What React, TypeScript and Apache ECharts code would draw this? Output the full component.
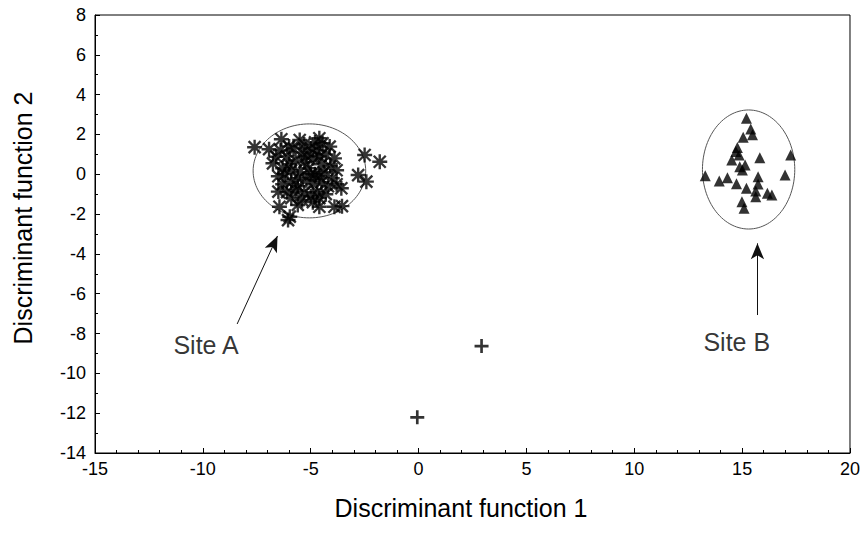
import React, { useEffect, useRef } from "react";
import * as echarts from "echarts";

const siteA: number[][] = [
  [-7.6, 1.36], [-6.93, 1.26], [-6.36, 1.76], [-5.51, 1.72], [-4.6, 1.81], [-4.45, 1.56],
  [-4.12, 1.39], [-2.5, 0.97], [-1.8, 0.63], [-2.8, -0.04], [-2.42, -0.37], [-3.58, -0.7],
  [-6.6, 0.88], [-6.75, 0.55], [-6.5, -0.87], [-6.45, -1.63], [-5.97, -2.13], [-6.05, -2.3],
  [-5.6, -1.54], [-4.6, -1.63], [-3.9, -1.63], [-3.55, -1.6],
  [-6.4, 1.2], [-6.1, 0.9], [-5.8, 1.3], [-5.4, 1.1], [-5.0, 1.3], [-4.7, 1.2], [-4.3, 1.0],
  [-3.9, 0.8], [-6.3, 0.3], [-6.0, 0.5], [-5.7, 0.7], [-5.3, 0.6], [-4.9, 0.8], [-4.5, 0.5],
  [-4.1, 0.4], [-3.8, 0.2], [-6.5, -0.1], [-6.2, 0.0], [-5.9, 0.2], [-5.5, 0.1], [-5.1, 0.3],
  [-4.8, 0.0], [-4.4, 0.1], [-4.0, -0.2], [-6.3, -0.5], [-5.9, -0.4], [-5.6, -0.2], [-5.2, -0.3],
  [-4.9, -0.5], [-4.5, -0.4], [-4.2, -0.6], [-3.8, -0.5], [-6.1, -0.9], [-5.7, -0.8], [-5.3, -0.9],
  [-5.0, -1.1], [-4.7, -0.9], [-4.3, -1.0], [-5.9, -1.2], [-5.4, -1.3], [-4.9, -1.4], [-4.6, -1.2],
  [-5.2, 0.9], [-4.6, 0.9], [-6.0, 1.4], [-5.3, 1.5], [-4.8, 1.6], [-5.6, -0.6], [-4.6, -0.1],
  [-5.0, 0.0],
];

const siteB: number[][] = [
  [15.2, 2.81], [15.4, 2.28], [15.48, 1.98], [15.05, 1.86], [14.78, 1.34], [14.71, 1.14],
  [14.86, 0.97], [14.52, 0.72], [15.82, 0.83], [17.25, 0.97], [15.14, 0.47], [14.89, 0.38],
  [15.01, 0.22], [13.29, -0.07], [16.99, -0.04], [13.94, -0.34], [14.32, -0.17], [14.74, -0.47],
  [15.74, -0.12], [15.74, -0.49], [15.2, -0.7], [15.63, -0.84], [16.17, -0.95], [16.38, -1.04],
  [15.63, -1.13], [14.99, -1.38], [15.09, -1.71],
];

const centroids: number[][] = [
  [2.92, -8.63],
  [-0.06, -12.21],
];

// ellipse parameters: [cx, cy, rx, ry]
const ellipseA = [-5.06, 0.17, 2.61, 2.36];
const ellipseB = [15.3, 0.24, 2.14, 2.99];

const arrowA = [[-8.41, -7.52], [-6.54, -3.1]];
const arrowB = [[15.71, -7.07], [15.71, -3.47]];

const labelPoints = [
  { name: "Site A", value: [-9.85, -8.6] },
  { name: "Site B", value: [14.75, -8.4] },
];

const xTicks = { min: -15, max: 20, interval: 5 };
const yTicks = { min: -14, max: 8, interval: 2 };

const ASTERISK =
  "path://M8.4 0h3.2v20h-3.2zM0 8.4h20v3.2H0zM3.1 0.9L19.1 16.9L16.9 19.1L0.9 3.1zM19.1 3.1L3.1 19.1L0.9 16.9L16.9 0.9z";
const PLUS = "path://M8.1 0h3.8v20h-3.8zM0 8.1h20v3.8H0z";

function ellipsePoints(e: number[]): number[][] {
  const pts: number[][] = [];
  const n = 120;
  for (let i = 0; i <= n; i++) {
    const t = (i / n) * Math.PI * 2;
    pts.push([e[0] + e[2] * Math.cos(t), e[1] + e[3] * Math.sin(t)]);
  }
  return pts;
}

const FONT = "Arial, 'Liberation Sans', sans-serif";

export default function App() {
  const ref = useRef<HTMLDivElement>(null);
  useEffect(() => {
    document.body.style.margin = "0";
    if (!ref.current) return;
    const chart = echarts.init(ref.current, undefined, { renderer: "svg" });
    const arrowStyle = { color: "#111", width: 1, type: "solid" as const };
    chart.setOption({
      animation: false,
      backgroundColor: "#fff",
      grid: { left: 95, right: 12, top: 15, bottom: 85, show: true, borderColor: "#000", borderWidth: 1 },
      xAxis: {
        type: "value",
        min: xTicks.min,
        max: xTicks.max,
        interval: xTicks.interval,
        axisLine: { show: true, onZero: false, lineStyle: { color: "#000", width: 1 } },
        axisTick: { show: true, inside: true, length: 5, lineStyle: { color: "#000" } },
        minorTick: { show: true, splitNumber: 5, length: 3, lineStyle: { color: "#000" } },
        splitLine: { show: false },
        axisLabel: { color: "#000", fontSize: 18, fontFamily: FONT, margin: 7 },
      },
      yAxis: {
        type: "value",
        min: yTicks.min,
        max: yTicks.max,
        interval: yTicks.interval,
        axisLine: { show: true, onZero: false, lineStyle: { color: "#000", width: 1 } },
        axisTick: { show: true, inside: true, length: 5, lineStyle: { color: "#000" } },
        minorTick: { show: true, splitNumber: 2, length: 3, lineStyle: { color: "#000" } },
        splitLine: { show: false },
        axisLabel: { color: "#000", fontSize: 18, fontFamily: FONT, margin: 9 },
      },
      graphic: [
        {
          type: "text",
          x: 461,
          y: 508,
          style: {
            text: "Discriminant function 1",
            font: `25px ${FONT}`,
            fill: "#000",
            align: "center",
            verticalAlign: "middle",
          },
        },
        {
          type: "text",
          x: 23,
          y: 218,
          rotation: Math.PI / 2,
          style: {
            text: "Discriminant function 2",
            font: `25px ${FONT}`,
            fill: "#000",
            align: "center",
            verticalAlign: "middle",
          },
        },
      ],
      series: [
        {
          type: "line",
          data: ellipsePoints(ellipseA),
          symbol: "none",
          lineStyle: { color: "#555", width: 1 },
          z: 1,
        },
        {
          type: "line",
          data: ellipsePoints(ellipseB),
          symbol: "none",
          lineStyle: { color: "#555", width: 1 },
          z: 1,
        },
        {
          type: "scatter",
          data: siteA,
          symbol: ASTERISK,
          symbolSize: 15,
          itemStyle: { color: "#000" },
          z: 3,
        },
        {
          type: "scatter",
          data: siteB,
          symbol: "triangle",
          symbolSize: 11,
          itemStyle: { color: "#000" },
          z: 3,
        },
        {
          type: "scatter",
          data: centroids,
          symbol: PLUS,
          symbolSize: 14,
          itemStyle: { color: "#000" },
          z: 3,
        },
        {
          type: "scatter",
          data: labelPoints,
          symbolSize: 0,
          label: {
            show: true,
            position: "inside",
            formatter: "{b}",
            color: "#000",
            fontSize: 25,
            fontFamily: FONT,
          },
          markLine: {
            silent: true,
            symbol: ["none", "arrow"],
            symbolSize: [10, 16],
            label: { show: false },
            lineStyle: arrowStyle,
            data: [
              [{ coord: arrowA[0] }, { coord: arrowA[1] }],
              [{ coord: arrowB[0] }, { coord: arrowB[1] }],
            ],
          },
          z: 4,
        },
      ],
    });
    return () => chart.dispose();
  }, []);
  return <div ref={ref} style={{ width: 863, height: 538 }} />;
}
